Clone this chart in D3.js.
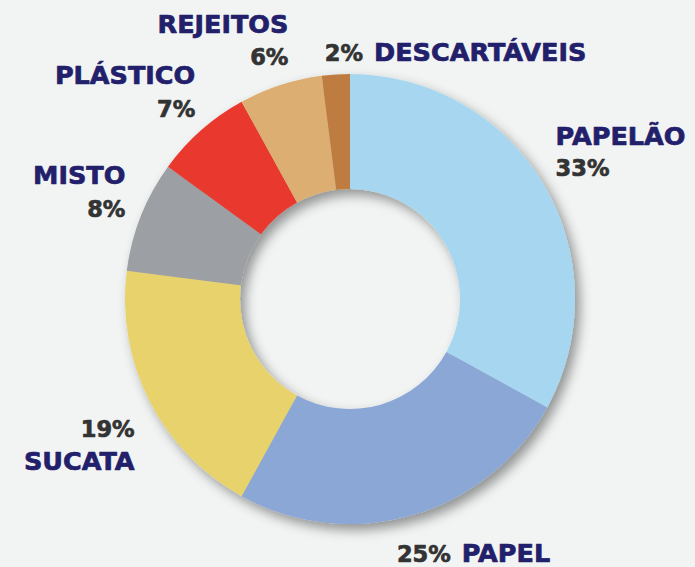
<!DOCTYPE html>
<html>
<head>
<meta charset="utf-8">
<script src="https://cdn.jsdelivr.net/npm/d3@7"></script>
<style>
  html, body { margin: 0; padding: 0; background: #f2f4f4; }
  svg { display: block; }
  text { font-family: "DejaVu Sans", sans-serif; font-weight: bold; }
</style>
</head>
<body>
<div id="chart"></div>
<script>
// data
var categories = ["PAPELÃO", "PAPEL", "SUCATA", "MISTO", "PLÁSTICO", "REJEITOS", "DESCARTÁVEIS"];
var values = [33, 25, 19, 8, 7, 6, 2];
var colors = ["#a7d7f0", "#8ba7d6", "#e7d26c", "#9c9fa3", "#e9392f", "#ddae72", "#bf7b3f"];

// label layout: kind, anchor and nudge from the outer label centroid
var labelLayout = [
    { kind: "namePct", anchor: "start", dx: -44, dyName: -6, dyPct: 25 },
    { kind: "inline",  anchor: "start", dx: -34, dy: -15 },
    { kind: "pctName", anchor: "end",   dx: 43,  dyPct: 6,  dyName: 39 },
    { kind: "namePct", anchor: "end",   dx: 45,  dyName: -8, dyPct: 25 },
    { kind: "namePct", anchor: "end",   dx: 37,  dyName: 3,  dyPct: 36 },
    { kind: "namePct", anchor: "end",   dx: 28,  dyName: 10, dyPct: 42 },
    { kind: "inline",  anchor: "start", dx: -7,  dy: 51 }
];

var width = 695, height = 567;
var cx = 350, cy = 299;
var outerR = 225, innerR = 110, labelR = 290;
var nameColor = "#22206a", pctColor = "#333333";
var nameSize = 25.5, pctSize = 22.5;

var svg = d3.select("#chart").append("svg")
    .attr("width", width)
    .attr("height", height);

svg.append("rect").attr("width", width).attr("height", height).attr("fill", "#f2f4f4");

var defs = svg.append("defs");
var filter = defs.append("filter").attr("id", "shadow")
    .attr("x", "-20%").attr("y", "-20%").attr("width", "140%").attr("height", "140%");
filter.append("feDropShadow")
    .attr("dx", 5).attr("dy", 6)
    .attr("stdDeviation", 6)
    .attr("flood-color", "#000")
    .attr("flood-opacity", 0.4);

var pie = d3.pie().sort(null).value(function (d) { return d; });
var arcs = pie(values);

var arc = d3.arc().innerRadius(innerR).outerRadius(outerR);
var labelArc = d3.arc().innerRadius(labelR).outerRadius(labelR);

var g = svg.append("g").attr("transform", "translate(" + cx + "," + cy + ")");

var ring = g.append("g").attr("filter", "url(#shadow)");
ring.selectAll("path")
    .data(arcs)
    .enter()
    .append("path")
    .attr("d", arc)
    .attr("fill", function (d, i) { return colors[i]; });

// heavier strokes on the text to get closer to the extra-bold face
function heavy(sel, color) {
    return sel.attr("fill", color)
        .attr("stroke", color)
        .attr("stroke-width", 0.7)
        .attr("stroke-linejoin", "round");
}

// labels
arcs.forEach(function (d, i) {
    var c = labelArc.centroid(d);
    var L = labelLayout[i];
    var x = c[0] + L.dx;
    var pct = values[i] + "%";

    if (L.kind === "inline") {
        var t = g.append("text")
            .attr("x", x)
            .attr("y", c[1] + L.dy)
            .attr("text-anchor", L.anchor);
        heavy(t.append("tspan").attr("font-size", pctSize), pctColor).text(pct);
        heavy(t.append("tspan").attr("font-size", nameSize).attr("dx", 11), nameColor).text(categories[i]);
    } else {
        heavy(g.append("text")
            .attr("x", x)
            .attr("y", c[1] + L.dyName)
            .attr("text-anchor", L.anchor)
            .attr("font-size", nameSize), nameColor)
            .text(categories[i]);
        heavy(g.append("text")
            .attr("x", x)
            .attr("y", c[1] + L.dyPct)
            .attr("text-anchor", L.anchor)
            .attr("font-size", pctSize), pctColor)
            .text(pct);
    }
});
</script>
</body>
</html>
